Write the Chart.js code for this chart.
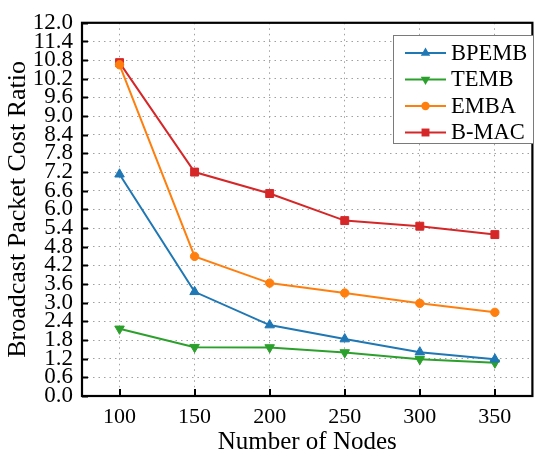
<!DOCTYPE html>
<html>
<head>
<meta charset="utf-8">
<script src="https://cdn.jsdelivr.net/npm/chart.js@4.4.0/dist/chart.umd.min.js"></script>
<style>
  html, body { margin: 0; padding: 0; background: #fff; }
  #wrap { width: 539px; height: 454px; }
</style>
</head>
<body>
<div id="wrap"><canvas id="grafico" width="539" height="454"></canvas></div>
<script>
// valores
const nodos = [100, 150, 200, 250, 300, 350];
const bpemb = [7.13, 3.35, 2.28, 1.83, 1.41, 1.18];
const temb = [2.16, 1.57, 1.56, 1.40, 1.18, 1.07];
const emba = [10.65, 4.49, 3.63, 3.31, 2.98, 2.69];
const bmac = [10.72, 7.20, 6.51, 5.64, 5.46, 5.19];
const nombres = ["BPEMB", "TEMB", "EMBA", "B-MAC"];
const colores = ["#1f77b4", "#2ca02c", "#ff7f0e", "#d62728"];
const marcadores = ["triangle", "triangle", "circle", "rect"];
const giros = [0, 180, 0, 0];
const radios = [5.5, 5.5, 4.2, 5.6];

const fuente = "'Liberation Serif', 'Times New Roman', serif";

function puntos(serie) {
  return nodos.map((n, i) => ({ x: n, y: serie[i] }));
}

const series = [bpemb, temb, emba, bmac];
const datasets = series.map((s, i) => ({
  label: nombres[i],
  data: puntos(s),
  borderColor: colores[i],
  backgroundColor: colores[i],
  borderWidth: 2,
  pointStyle: marcadores[i],
  rotation: giros[i],
  pointRadius: radios[i],
  pointBorderWidth: 1,
  tension: 0
}));

// marco, marcas hacia dentro y leyenda
const extras = {
  id: "extras",
  afterDraw(chart) {
    const ctx = chart.ctx;
    const a = chart.chartArea;
    const sx = chart.scales.x;
    const sy = chart.scales.y;
    ctx.save();
    ctx.strokeStyle = "#000";
    ctx.lineWidth = 2;
    ctx.beginPath();
    sy.ticks.forEach(t => {
      const py = Math.round(sy.getPixelForValue(t.value)) + 0.5;
      ctx.moveTo(a.left, py);
      ctx.lineTo(a.left + 6, py);
    });
    sx.ticks.forEach(t => {
      const px = Math.round(sx.getPixelForValue(t.value));
      ctx.moveTo(px, a.bottom);
      ctx.lineTo(px, a.bottom - 7);
    });
    ctx.stroke();
    ctx.lineWidth = 2.2;
    ctx.strokeRect(a.left, a.top, a.right - a.left, a.bottom - a.top);

    // leyenda
    const lx = 393.5, ly = 35.5, lw = 140, lh = 108;
    ctx.fillStyle = "#fff";
    ctx.fillRect(lx, ly, lw, lh);
    ctx.lineWidth = 1;
    ctx.strokeStyle = "#7a7a7a";
    ctx.strokeRect(lx, ly, lw, lh);
    ctx.font = "22.5px " + fuente;
    ctx.textBaseline = "middle";
    nombres.forEach((nom, i) => {
      const y = 53 + i * 26.5;
      ctx.strokeStyle = colores[i];
      ctx.fillStyle = colores[i];
      ctx.lineWidth = 2;
      ctx.beginPath();
      ctx.moveTo(405, y);
      ctx.lineTo(446, y);
      ctx.stroke();
      const cx = 425.5, r = radios[i];
      ctx.beginPath();
      if (marcadores[i] === "circle") {
        ctx.arc(cx, y, r, 0, Math.PI * 2);
      } else if (marcadores[i] === "rect") {
        const s = r * Math.SQRT1_2;
        ctx.rect(cx - s, y - s, 2 * s, 2 * s);
      } else {
        const d = giros[i] ? -1 : 1;
        ctx.moveTo(cx, y - d * r);
        ctx.lineTo(cx + r * 0.866, y + d * r * 0.5);
        ctx.lineTo(cx - r * 0.866, y + d * r * 0.5);
        ctx.closePath();
      }
      ctx.fill();
      ctx.fillStyle = "#000";
      ctx.fillText(nom, 451, y + 1);
    });
    ctx.restore();
  }
};

new Chart(document.getElementById("grafico"), {
  type: "line",
  data: { datasets: datasets },
  options: {
    responsive: false,
    animation: false,
    layout: { padding: { top: 19, right: 2, left: 0, bottom: 0 } },
    plugins: {
      legend: { display: false },
      tooltip: { enabled: false }
    },
    scales: {
      x: {
        type: "linear",
        min: 75,
        max: 375,
        afterBuildTicks: scale => {
          scale.ticks = nodos.map(v => ({ value: v }));
        },
        afterFit: scale => { scale.height = 58; },
        grid: { color: "#a0a0a0", lineWidth: 1, drawTicks: false },
        border: { display: false, dash: [1.5, 4] },
        ticks: {
          color: "#000",
          padding: 8,
          maxRotation: 0,
          font: { family: fuente, size: 22 },
          callback: v => String(v)
        },
        title: {
          display: true,
          text: "Number of Nodes",
          color: "#000",
          padding: { top: 0, bottom: -3 },
          font: { family: fuente, size: 25 }
        }
      },
      y: {
        min: 0,
        max: 12,
        afterFit: scale => { scale.width = 82; },
        grid: { color: "#a0a0a0", lineWidth: 1, drawTicks: false },
        border: { display: false, dash: [1.5, 4] },
        ticks: {
          color: "#000",
          padding: 9,
          stepSize: 0.6,
          autoSkip: false,
          font: { family: fuente, size: 23 },
          callback: v => Number(v).toFixed(1)
        },
        title: {
          display: true,
          text: "Broadcast Packet Cost Ratio",
          color: "#000",
          padding: { top: 3, bottom: 0 },
          font: { family: fuente, size: 26 }
        }
      }
    }
  },
  plugins: [extras]
});
</script>
</body>
</html>
